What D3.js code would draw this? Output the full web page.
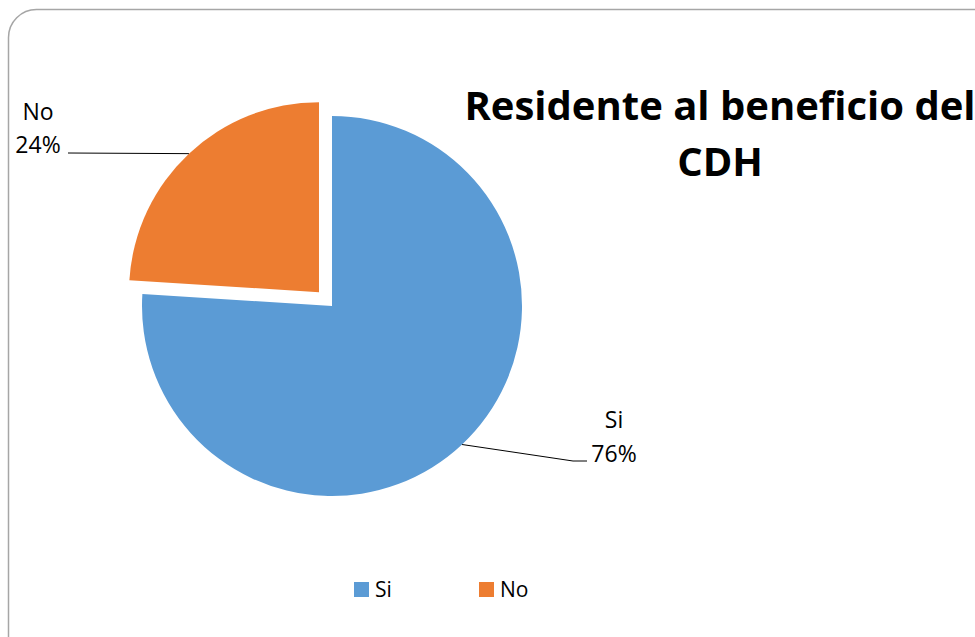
<!DOCTYPE html>
<html>
<head>
<meta charset="utf-8">
<script src="https://cdn.jsdelivr.net/npm/d3@7"></script>
<style>
  html, body { margin: 0; padding: 0; background: #fff; }
  svg { display: block; font-family: "Open Sans", sans-serif; }
</style>
</head>
<body>
<svg id="chart"></svg>
<script>
// Datos
const categories = ["Si", "No"];
const values = [76, 24];
const titleLines = ["Residente al beneficio del", "CDH"];

const colors = ["#5B9BD5", "#ED7D31"];

const width = 975;
const height = 637;
const svg = d3.select("#chart")
    .attr("width", width)
    .attr("height", height)
    .attr("viewBox", `0 0 ${width} ${height}`);

// Borde del gráfico
svg.append("rect")
    .attr("x", 8.5)
    .attr("y", 9.5)
    .attr("width", 1000)
    .attr("height", 660)
    .attr("rx", 28)
    .attr("fill", "#fff")
    .attr("stroke", "#a6a6a6")
    .attr("stroke-width", 1.5);

const cx = 332, cy = 306, radius = 190;
const explode = [0, 19];

const data = categories.map((c, i) => ({ cat: c, value: values[i], i }));
const pie = d3.pie().sort(null).value(d => d.value);
const arcs = pie(data);
const arc = d3.arc().innerRadius(0).outerRadius(radius);
const total = d3.sum(values);

const g = svg.append("g").attr("transform", `translate(${cx},${cy})`);

function offset(d, dist) {
    const mid = (d.startAngle + d.endAngle) / 2;
    return [Math.sin(mid) * dist, -Math.cos(mid) * dist];
}

// Sectores
g.selectAll(".slice")
    .data(arcs)
    .enter()
    .append("path")
    .attr("class", "slice")
    .attr("transform", d => {
        const [dx, dy] = offset(d, explode[d.data.i]);
        return `translate(${dx},${dy})`;
    })
    .attr("d", arc)
    .attr("fill", d => colors[d.data.i]);

// Etiquetas (posición relativa al centro): x centro, y línea base de la 1ª línea
const labelPos = [
    { x: 282, y: 122, gap: 34, line: [[241, 155], [255, 155]] },
    { x: -294, y: -186, gap: 33, line: [[-264, -153]] }
];

arcs.forEach(d => {
    const i = d.data.i;
    const p = labelPos[i];
    const [ex, ey] = offset(d, explode[i]);
    const [ox, oy] = offset(d, radius);
    const pts = [[ex + ox, ey + oy]].concat(p.line);
    g.append("path")
        .attr("d", d3.line()(pts))
        .attr("fill", "none")
        .attr("stroke", "#000")
        .attr("stroke-width", 1);

    const t = g.append("text")
        .attr("text-anchor", "middle")
        .attr("font-size", "23px")
        .attr("fill", "#000");
    t.append("tspan")
        .attr("x", p.x)
        .attr("y", p.y)
        .text(d.data.cat);
    t.append("tspan")
        .attr("x", p.x)
        .attr("y", p.y + p.gap)
        .text(Math.round(d.data.value / total * 100) + "%");
});

// Título
svg.append("text")
    .attr("text-anchor", "middle")
    .attr("font-size", "40px")
    .attr("font-weight", "bold")
    .attr("fill", "#000")
    .selectAll("tspan")
    .data(titleLines)
    .enter()
    .append("tspan")
    .attr("x", 720)
    .attr("y", (d, i) => 120 + i * 56)
    .text(d => d);

// Leyenda
const legend = svg.append("g")
    .attr("transform", "translate(354,582)");

const legendX = d3.scalePoint()
    .domain(categories)
    .range([0, 125]);

const item = legend.selectAll(".item")
    .data(categories)
    .enter()
    .append("g")
    .attr("class", "item")
    .attr("transform", d => `translate(${legendX(d)},0)`);

item.append("rect")
    .attr("width", 15)
    .attr("height", 15)
    .attr("fill", (d, i) => colors[i]);

item.append("text")
    .attr("x", 21)
    .attr("y", 15)
    .attr("font-size", "21px")
    .attr("fill", "#000")
    .text(d => d);
</script>
</body>
</html>
